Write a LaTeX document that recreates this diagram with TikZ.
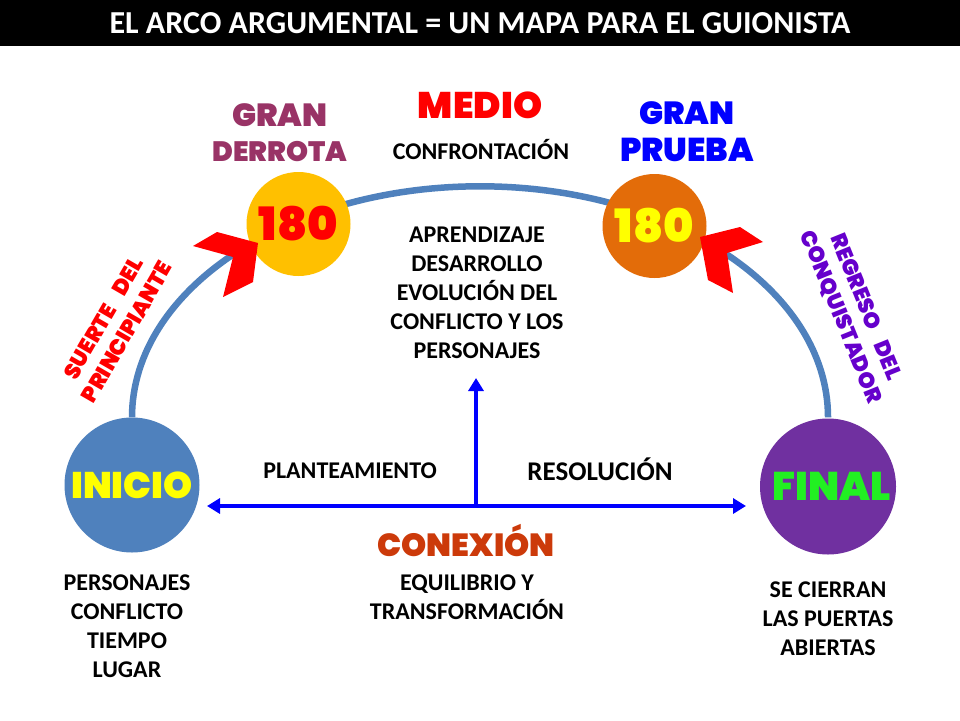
\documentclass[tikz,border=0pt]{standalone}
\usepackage{fontspec}
\setmainfont{Carlito}
\newfontfamily\heavy{Poppins Black}
\usetikzlibrary{arrows.meta,backgrounds}
\definecolor{steel}{HTML}{4F81BD}
\definecolor{gold}{HTML}{FFC000}
\definecolor{orng}{HTML}{E36C09}
\definecolor{purp}{HTML}{7030A0}
\definecolor{lgreen}{HTML}{22F022}
\definecolor{maroon}{HTML}{993366}
\definecolor{pureblue}{HTML}{0000FF}
\definecolor{brick}{HTML}{CC3A0A}
\definecolor{violet}{HTML}{6600CC}
\definecolor{pred}{HTML}{FF0000}
\definecolor{pyel}{HTML}{FFFF00}
\begin{document}
\begin{tikzpicture}[x=1pt,y=-1pt,
  circ/.style={circle,inner sep=0pt,draw=none},
  body/.style={inner sep=0pt,align=center,font=\fontsize{24}{29}\selectfont\bfseries},
  hv/.style={inner sep=0pt,align=center,font=\heavy\fontsize{#1}{#1}\selectfont},
  barrow/.style={draw=pureblue,line width=4.5pt,-{Triangle[length=13pt,width=15pt]}},
  arcline/.style={draw=steel,line width=6.5pt}
]
\useasboundingbox (0,0) rectangle (960,720);
\fill[black] (0,0) rectangle (960,46);
\node[inner sep=0pt,text=white,font=\fontsize{32}{32}\selectfont\bfseries] (title) at (480,23) {EL ARCO ARGUMENTAL = UN MAPA PARA EL GUIONISTA};

% circles
\node[circ,fill=steel,minimum size=135pt] (ini) at (132,485) {\heavy\fontsize{37}{37}\selectfont\color{pyel}INICIO};
\node[circ,fill=purp,minimum size=136pt] (fin) at (828,486.5) {\heavy\fontsize{40}{40}\selectfont\color{lgreen}\hspace*{8pt}FINAL};
\node[circ,fill=gold,minimum size=104pt] (gd) at (298.5,224) {\heavy\fontsize{46}{46}\selectfont\color{pred}180};
\node[circ,fill=orng,minimum size=104pt] (gp) at (654.5,226) {\heavy\fontsize{46}{46}\selectfont\color{pyel}180};

% arc behind circles
\begin{scope}[on background layer]
\fill[white] (0,46) rectangle (960,720);
\draw[arcline] (ini.north) arc[start angle=180,end angle=360,x radius=348,y radius=231];
\end{scope}

% red arrowheads
\fill[pred] (217,232) -- (258,243) -- (253,282) -- (223,297) -- (233,257) -- (193,246) -- cycle;
\fill[pred] (700,237) -- (740,227) -- (763,242) -- (727,253) -- (733,293) -- (708,280) -- cycle;

% blue arrows
\coordinate (hub) at (476,506);
\coordinate (up) at (476,378);
\coordinate (lt) at (207,506);
\coordinate (rt) at (746,506);
\draw[barrow] (hub) -- (up);
\draw[barrow] (hub) -- (lt);
\draw[barrow] (hub) -- (rt);

% heavy labels
\node[hv=32,text=maroon] (gran1) at (280,115) {GRAN};
\node[hv=28,text=maroon] (derrota) at (280,152) {DERROTA};
\node[hv=37,text=pred] (medio) at (480,105) {MEDIO};
\node[hv=32,text=pureblue] (gran2) at (687,113) {GRAN};
\node[hv=33,text=pureblue] (prueba) at (687,150) {PRUEBA};
\node[hv=32,text=brick] (conexion) at (466,540) {CONEXIÓN};
\node[text=pred,rotate=60,inner sep=0pt,align=center,font=\heavy\fontsize{22}{27}\selectfont] (suerte) at (115,325) {SUERTE\hspace{14pt}DEL\\PRINCIPIANTE};
\node[text=violet,rotate=-68,inner sep=0pt,align=center,font=\heavy\fontsize{22}{27}\selectfont] (regreso) at (853,312) {REGRESO\hspace{14pt}DEL\\CONQUISTADOR};

% body texts
\node[body] (confr) at (481,150) {CONFRONTACIÓN};
\node[body] (mid) at (477,292.5) {APRENDIZAJE\\DESARROLLO\\EVOLUCIÓN DEL\\CONFLICTO Y LOS\\PERSONAJES};
\node[body] (plan) at (350,470.5) {PLANTEAMIENTO};
\node[body,font=\fontsize{27}{29}\selectfont\bfseries] (reso) at (600,469) {RESOLUCIÓN};
\node[body] (equi) at (467,597) {EQUILIBRIO Y\\TRANSFORMACIÓN};
\node[body] (pers) at (127,626.5) {PERSONAJES\\CONFLICTO\\TIEMPO\\LUGAR};
\node[body] (cierr) at (828,618.5) {SE CIERRAN\\LAS PUERTAS\\ABIERTAS};
\end{tikzpicture}
\end{document}
